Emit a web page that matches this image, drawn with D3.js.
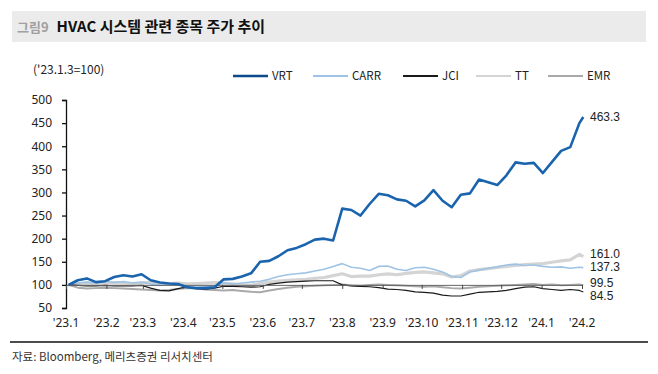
<!DOCTYPE html>
<html>
<head>
<meta charset="utf-8">
<script src="https://cdn.jsdelivr.net/npm/d3@7"></script>
<style>
  body { margin: 0; background: #fff; }
  svg { display: block; font-family: "Noto Sans CJK KR", "Noto Sans", sans-serif; }
</style>
</head>
<body>
<svg width="658" height="374"></svg>
<script>
var svg = d3.select("svg"),
    width = +svg.attr("width"),
    height = +svg.attr("height");

// weekly closes, indexed to '23.1.3 = 100
var dates = ["2023-01-03","2023-01-10","2023-01-17","2023-01-24","2023-01-31","2023-02-07","2023-02-14","2023-02-21",
  "2023-02-28","2023-03-07","2023-03-14","2023-03-21","2023-03-28","2023-04-04","2023-04-11","2023-04-18",
  "2023-04-25","2023-05-02","2023-05-09","2023-05-16","2023-05-23","2023-05-30","2023-06-06","2023-06-13",
  "2023-06-20","2023-06-27","2023-07-04","2023-07-11","2023-07-18","2023-07-25","2023-08-01","2023-08-08",
  "2023-08-15","2023-08-22","2023-08-29","2023-09-05","2023-09-12","2023-09-19","2023-09-26","2023-10-03",
  "2023-10-10","2023-10-17","2023-10-24","2023-10-31","2023-11-07","2023-11-14","2023-11-21","2023-11-28",
  "2023-12-05","2023-12-12","2023-12-19","2023-12-26","2024-01-02","2024-01-09","2024-01-16","2024-01-23",
  "2024-01-30","2024-02-02"];

var vrt = [100,110,114,106,108,117,121,118,123,110,105,103,102,95,93,93,
  95,112,113,118,125,150,152,162,175,180,188,198,200,196,265,262,
  250,275,297,294,285,282,270,283,305,282,268,295,298,328,322,316,
  337,365,362,364,342,366,390,398,450,463.3];
var carr = [100,104,106,104,108,105,107,104,106,102,99,101,100,97,94,96,
  98,104,102,104,106,108,112,118,122,124,126,130,134,140,146,138,
  136,131,140,141,134,131,137,138,134,128,118,116,128,132,136,139,
  143,145,142,143,140,138,139,136,138,137.3];
var jci = [100,99,98,98,99,98,98,98,99,93,88,87,92,96,92,91,
  93,97,97,96,95,96,101,104,106,107,108,109,109,109,100,98,
  97,96,94,91,90,88,85,84,82,78,76,76,80,84,85,86,
  88,92,95,96,92,90,88,90,88,84.5];
var tt = [100,102,104,103,104,105,104,103,104,106,104,103,104,102,103,104,
  105,104,102,100,99,103,106,108,110,111,112,114,116,120,124,118,
  119,119,122,124,122,125,127,128,126,124,117,120,130,133,135,138,
  140,142,144,145,146,149,152,154,166,161.0];
var emr = [100,94,92,93,94,93,92,91,90,89,88,89,91,93,92,90,
  89,88,89,87,85,84,88,91,94,96,97,98,99,100,101,99,
  98,100,101,100,99,98,97,96,97,95,93,92,94,96,97,98,
  99,100,101,102,100,101,99,100,101,99.5];

var names = ["VRT", "CARR", "JCI", "TT", "EMR"];
var colors = ["#1a63ad", "#9fc3e4", "#1a1a1a", "#d4d4d4", "#a9a9a9"];
var widths = [2.6, 1.6, 1.2, 3.2, 2];
var endLabels = ["463.3", "137.3", "84.5", "161.0", "99.5"];
var yTicks = [50, 100, 150, 200, 250, 300, 350, 400, 450, 500];
var monthLabels = ["'23.1","'23.2","'23.3","'23.4","'23.5","'23.6","'23.7","'23.8","'23.9","'23.10","'23.11","'23.12","'24.1","'24.2"];

var parse = d3.timeParse("%Y-%m-%d");
var series = [vrt, carr, jci, tt, emr].map(function(vals, i) {
  return {
    name: names[i], color: colors[i], width: widths[i], label: endLabels[i],
    values: vals.map(function(v, j) { return { date: parse(dates[j]), value: v }; })
  };
});

var x = d3.scaleTime()
    .domain([new Date(2023, 0, 1), new Date(2024, 1, 1)])
    .range([66, 582]);
var y = d3.scaleLinear()
    .domain([50, 500])
    .range([308, 100]);

// title bar
svg.append("rect")
    .attr("x", 12).attr("y", 11).attr("width", 634).attr("height", 31)
    .attr("fill", "#ebebeb");
var title = svg.append("text")
    .attr("x", 17).attr("y", 32);
title.append("tspan")
    .attr("fill", "#a0a0a0").attr("font-size", 13).attr("font-weight", "bold")
    .text("그림9");
title.append("tspan")
    .attr("dx", 8)
    .attr("fill", "#111").attr("font-size", 15).attr("font-weight", "bold")
    .text("HVAC 시스템 관련 종목 주가 추이");

svg.append("text")
    .attr("x", 33).attr("y", 74)
    .attr("font-size", 12).attr("fill", "#222")
    .text("('23.1.3=100)");

// legend
var legendX = [233, 313, 403, 476, 548];
var legend = svg.append("g").selectAll("g")
    .data(series)
    .enter().append("g")
    .attr("transform", function(d, i) { return "translate(" + legendX[i] + ",76)"; });
legend.append("line")
    .attr("x1", 0).attr("x2", 35)
    .attr("stroke", function(d) { return d.name == "VRT" ? "#0d4a8c" : d.color; })
    .attr("stroke-width", function(d) { return d.name == "VRT" ? 2.6 : 2; });
legend.append("text")
    .attr("x", 39).attr("dy", "0.35em")
    .attr("font-size", 11.5).attr("fill", "#222")
    .text(function(d) { return d.name; });

// y axis
var yAxis = svg.append("g")
    .attr("transform", "translate(66,0)")
    .call(d3.axisLeft(y).tickValues(yTicks).tickSize(4).tickPadding(10));
yAxis.select(".domain").attr("stroke", "#111").attr("stroke-width", 1.3);
yAxis.selectAll(".tick line").attr("stroke", "#111").attr("stroke-width", 1.3);
yAxis.selectAll("text").attr("font-size", 12).attr("fill", "#222")
    .attr("font-family", "'Noto Sans', sans-serif");

// lines
var line = d3.line()
    .x(function(d) { return x(d.date); })
    .y(function(d) { return y(d.value); });

var order = ["TT", "EMR", "CARR", "JCI"];
svg.append("g").selectAll("path")
    .data(order.map(function(n) { return series.find(function(s) { return s.name == n; }); }))
    .enter().append("path")
    .attr("fill", "none")
    .attr("stroke", function(d) { return d.color; })
    .attr("stroke-width", function(d) { return d.width; })
    .attr("stroke-linejoin", "round")
    .attr("d", function(d) { return line(d.values); });

// x axis crosses at 100
var months = d3.timeMonth.range(new Date(2023, 0, 1), new Date(2024, 1, 2));
var xAxis = svg.append("g")
    .attr("transform", "translate(0," + y(100) + ")")
    .call(d3.axisBottom(x).tickValues(months).tickSize(4).tickFormat(""));
xAxis.select(".domain").attr("stroke", "#666").attr("stroke-width", 1);
xAxis.selectAll(".tick line").attr("stroke", "#444");

svg.append("g").selectAll("text")
    .data(months)
    .enter().append("text")
    .attr("x", function(d) { return x(d); })
    .attr("y", 327)
    .attr("text-anchor", "middle")
    .attr("font-size", 12).attr("fill", "#222")
    .attr("font-family", "'Noto Sans', sans-serif")
    .text(function(d, i) { return monthLabels[i]; });

var vrtSeries = series[0];
svg.append("path")
    .attr("fill", "none")
    .attr("stroke", vrtSeries.color)
    .attr("stroke-width", vrtSeries.width)
    .attr("stroke-linejoin", "round")
    .attr("d", line(vrtSeries.values));

// end labels
var labelY = { "VRT": 117, "TT": 254, "CARR": 267, "EMR": 283, "JCI": 296 };
svg.append("g").selectAll("text")
    .data(series)
    .enter().append("text")
    .attr("x", 590)
    .attr("y", function(d) { return labelY[d.name]; })
    .attr("dy", "0.35em")
    .attr("font-size", 12).attr("fill", "#222")
    .attr("font-family", "'Liberation Sans', Arial, sans-serif")
    .text(function(d) { return d.label; });

// footer
svg.append("line")
    .attr("x1", 10).attr("x2", 648).attr("y1", 342).attr("y2", 342)
    .attr("stroke", "#111").attr("stroke-width", 1.5);
svg.append("text")
    .attr("x", 12).attr("y", 361)
    .attr("font-size", 11.5).attr("fill", "#333")
    .text("자료: Bloomberg, 메리츠증권 리서치센터");
</script>
</body>
</html>
